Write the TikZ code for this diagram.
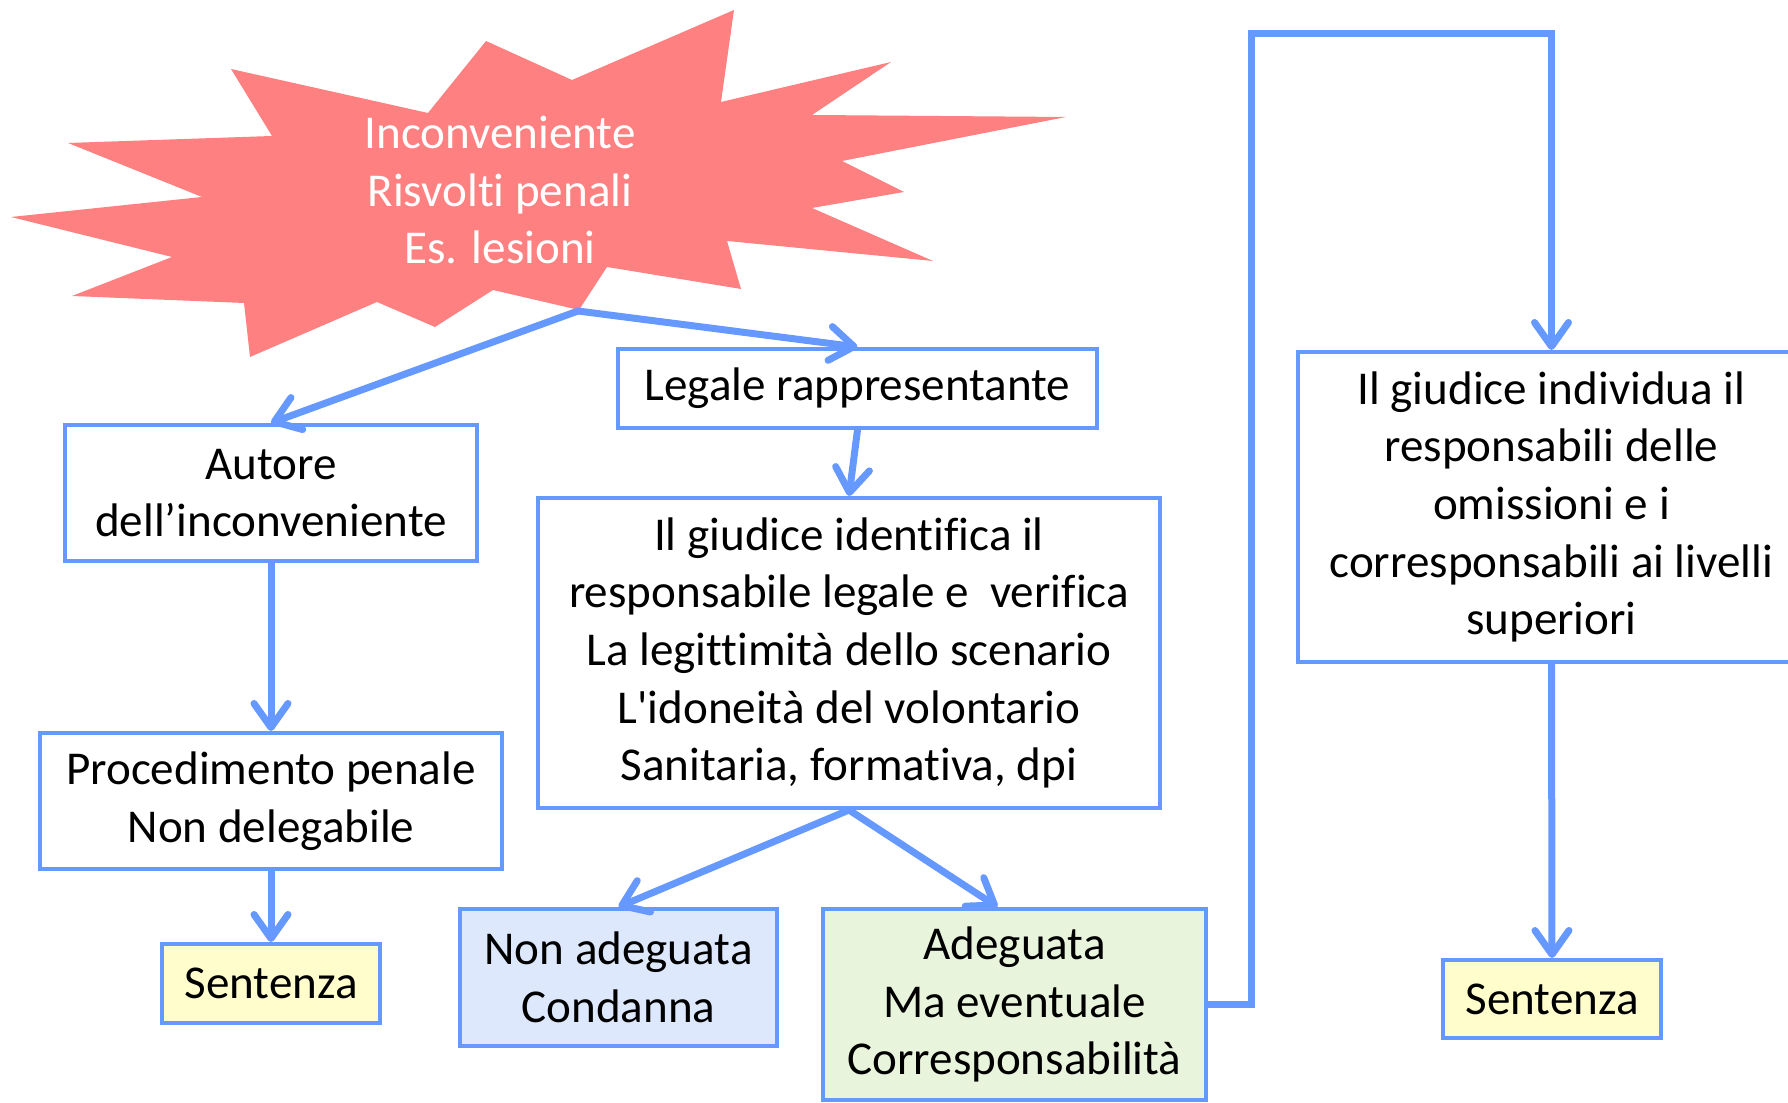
\documentclass[tikz,border=0pt]{standalone}
\usepackage{fontspec}
\setmainfont[Ligatures={NoCommon,NoContextual}, Contextuals=NoAlternate]{Carlito}
\usetikzlibrary{arrows.meta}

\definecolor{bordo}{RGB}{102,153,255}
\definecolor{rosso}{RGB}{255,128,128}
\definecolor{giallino}{RGB}{255,253,204}
\definecolor{celeste}{RGB}{222,232,252}
\definecolor{verdino}{RGB}{233,244,221}

\begin{document}
\begin{tikzpicture}[
		  x=0.1mm, y=-0.1mm,
		  every node/.style={font=\fontsize{13.4}{16.4}\selectfont, align=center}
		]

		\tikzset{
		    riquadro/.style={draw=bordo, line width=0.4mm, fill=white, inner sep=0pt},
		    giallo/.style={riquadro, fill=giallino},
		    azzurro/.style={riquadro, fill=celeste},
		    verde/.style={riquadro, fill=verdino},
		    freccia/.style={draw=bordo, line width=0.7mm, line cap=round,
		      -{Straight Barb[length=2.4mm, width=3.4mm, round]}}
		}

		\clip (0,0) rectangle (1788,1103);

		% Stella dell'inconveniente
		\fill[rosso] (734,10) -- (721,102) -- (891,62) -- (812,115) -- (1066,117)
		  -- (842,161) -- (904,192) -- (812,208) -- (933,261) -- (727,241)
		  -- (741,289) -- (607,267) -- (579,310) -- (493,290) -- (435,327)
		  -- (377,302) -- (250,357) -- (244,303) -- (72,296) -- (172,257)
		  -- (11,217) -- (202,197) -- (68,143) -- (272,136) -- (231,69)
		  -- (428,113) -- (486,41) -- (572,80) -- cycle;
		\node[text=white] (In) at (500,190) {Inconveniente\\Risvolti penali\\Es. lesioni};
		\coordinate (punta) at (578,311);

		% Ramo sinistro
		\node[riquadro, minimum width=41.2mm, minimum height=13.6mm] (Au) at (271,493)
		  {Autore\\dell’inconveniente};
		\node[riquadro, minimum width=46.2mm, minimum height=13.6mm] (Pr) at (271,801)
		  {Procedimento penale\\Non delegabile};
		\node[giallo, minimum width=21.8mm, minimum height=7.9mm] (Se) at (271,983.5) {Sentenza};

		% Ramo centrale
		\node[riquadro, minimum width=47.9mm, minimum height=7.9mm] (Le) at (857.5,388.5)
		  {Legale rappresentante};
		\node[riquadro, minimum width=62.2mm, minimum height=31mm] (Gi) at (849,653)
		  {Il giudice identifica il\\responsabile legale e\ \ verifica\\La legittimità dello scenario\\L\textquotesingle idoneità del volontario\\Sanitaria, formativa, dpi};
		\node[azzurro, minimum width=31.7mm, minimum height=13.7mm] (Na) at (618.5,977.5)
		  {Non adeguata\\Condanna};
		\node[verde, minimum width=38.3mm, minimum height=19.1mm] (Ad) at (1014.5,1004.5)
		  {Adeguata\\Ma eventuale\\Corresponsabilità};

		% Ramo destro
		\node[riquadro, minimum width=50.7mm, minimum height=31mm] (Gi2) at (1551.5,507)
		  {Il giudice individua il\\responsabili delle\\omissioni e i\\corresponsabili ai livelli\\superiori};
		\node[giallo, minimum width=21.8mm, minimum height=7.8mm] (Se2) at (1552,999) {Sentenza};
		\coordinate (giro) at (1251,34);

		% Frecce
		\draw[freccia] (punta) -- (Au.north);
		\draw[freccia] (punta) -- (Le.north);
		\draw[freccia] (Le.south) -- (Gi.north);
		\draw[freccia] (Au.south) -- (Pr.north);
		\draw[freccia] (Pr.south) -- (Se.north);
		\draw[freccia] (Gi.south) -- (Na.north);
		\draw[freccia] (Gi.south) -- ([xshift=-1.7mm]Ad.north);
		\draw[freccia, line cap=butt] (Ad.east) -| (giro) -| (Gi2.north);
		\draw[freccia] (Gi2.south) -- (Se2.north);

		\end{tikzpicture}
\end{document}
